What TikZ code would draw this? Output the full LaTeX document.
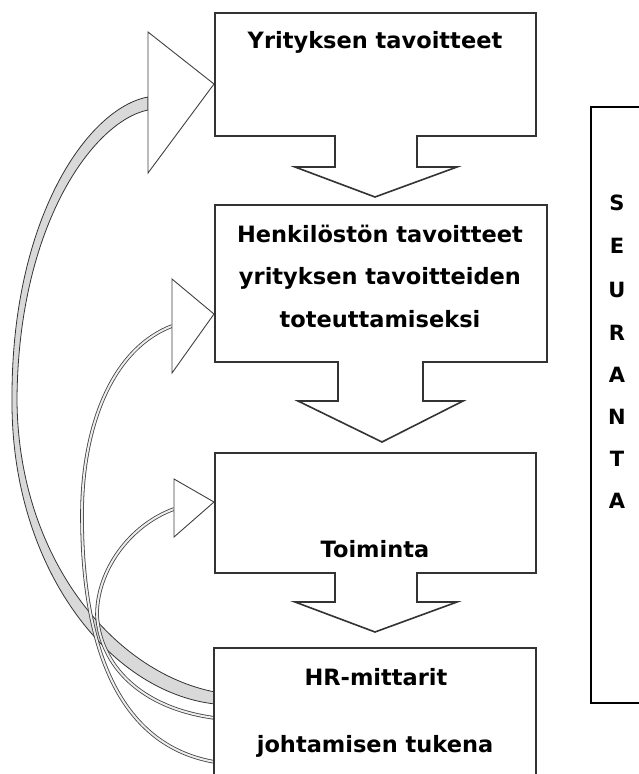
\documentclass[tikz,border=0pt]{standalone}
\usepackage{fontspec}
\setmainfont{DejaVu Sans}
\begin{document}
\begin{tikzpicture}[x=1pt,y=-1pt,
  boxline/.style={draw=black!80, line width=1.6pt, fill=white, line join=miter},
  headtri/.style={draw=black!75, line width=0.9pt, fill=white, line join=miter},
  bandshaft/.style={draw=black!80, line width=0.8pt, fill=gray!30},
  thinshaft/.style={draw=black!75, line width=0.8pt, double=gray!15, double distance=2pt},
  lbl/.style={font=\fontsize{22.5}{27}\selectfont\bfseries, anchor=base, inner sep=0pt},
  seur/.style={font=\fontsize{21}{24}\selectfont\bfseries, anchor=base, inner sep=0pt}]
\useasboundingbox (0,0) rectangle (639,774);

% anchor coordinates
\coordinate (h1a) at (148,97);
\coordinate (h1b) at (148,110);
\coordinate (e1a) at (215,704);
\coordinate (e1b) at (215,692);
\coordinate (h2) at (172,326);
\coordinate (e2) at (215,762);
\coordinate (h3) at (174,509);
\coordinate (e3) at (215,718);

% curved shafts
\draw[bandshaft] (h1a) .. controls (88,108) and (11,218) .. (12,400)
  .. controls (11,566) and (108,692) .. (e1a)
  -- (e1b) .. controls (112,672) and (18,556) .. (17,400)
  .. controls (18,224) and (94,121) .. (h1b) -- cycle;
\draw[thinshaft] (h2) .. controls (110,350) and (82,430) .. (82,515)
  .. controls (82,640) and (115,745) .. (e2);
\draw[thinshaft] (h3) .. controls (130,525) and (97,570) .. (97,615)
  .. controls (100,665) and (140,708) .. (e3);

% arrow heads
\draw[headtri] (148,32) -- (214,84) -- (148,173) -- cycle;
\draw[headtri] (172,279) -- (214,314) -- (172,373) -- cycle;
\draw[headtri] (174,479) -- (214,502) -- (174,537) -- cycle;

% boxes with down arrows
\draw[boxline] (215,13) -- (536,13) -- (536,136) -- (417,136) -- (417,167) -- (457,167) -- (375,197) -- (295,167) -- (335,167) -- (335,136) -- (215,136) -- cycle;
\draw[boxline] (215,205) -- (547,205) -- (547,362) -- (423,362) -- (423,401) -- (463,401) -- (382,442) -- (298,401) -- (338,401) -- (338,362) -- (215,362) -- cycle;
\draw[boxline] (215,453) -- (536,453) -- (536,573) -- (417,573) -- (417,602) -- (457,602) -- (375,632) -- (295,602) -- (335,602) -- (335,573) -- (215,573) -- cycle;
\draw[boxline] (214,648) rectangle (536,790);

% seuranta frame
\draw[black, line width=1.5pt] (645,107) -- (591,107) -- (591,703) -- (645,703);

% texts
\node[lbl] (t1) at (375,48) {Yrityksen tavoitteet};
\node[lbl] (t2a) at (380,242) {Henkilöstön tavoitteet};
\node[lbl] (t2b) at (380,284) {yrityksen tavoitteiden};
\node[lbl] (t2c) at (380,327) {toteuttamiseksi};
\node[lbl] (t3) at (375,557) {Toiminta};
\node[lbl] (t4a) at (376,685) {HR-mittarit};
\node[lbl] (t4b) at (375,752) {johtamisen tukena};

\node[seur] (s1) at (617,210) {S};
\node[seur] (s2) at (617,253) {E};
\node[seur] (s3) at (617,297) {U};
\node[seur] (s4) at (617,340) {R};
\node[seur] (s5) at (617,382) {A};
\node[seur] (s6) at (617,424) {N};
\node[seur] (s7) at (617,466) {T};
\node[seur] (s8) at (617,508) {A};
\end{tikzpicture}
\end{document}
